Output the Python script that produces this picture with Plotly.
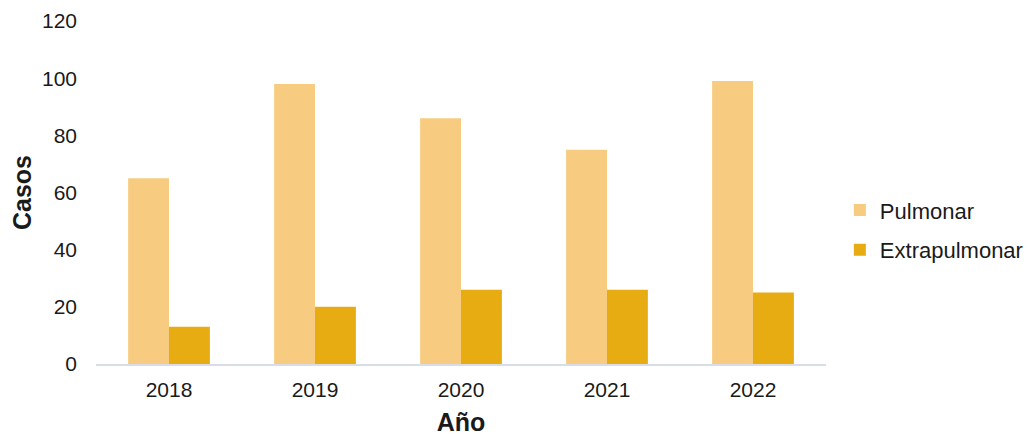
import plotly.graph_objects as go

years = ["2018", "2019", "2020", "2021", "2022"]
pulmonar = [65, 98, 86, 75, 99]
extrapulmonar = [13, 20, 26, 26, 25]

fig = go.Figure()
fig.add_trace(go.Bar(x=years, y=pulmonar, name="Pulmonar", legendgroup="a",
                     marker=dict(color="#F7CC80", line=dict(width=0))))
fig.add_trace(go.Bar(x=years, y=extrapulmonar, name="Extrapulmonar", legendgroup="b",
                     marker=dict(color="#E6AC12", line=dict(width=0))))

fig.update_layout(
    width=1028, height=436,
    margin=dict(l=96, r=202, t=21, b=72, autoexpand=False),
    paper_bgcolor="white", plot_bgcolor="white",
    barmode="group", bargap=0.44, bargroupgap=0,
    font=dict(family="Liberation Sans, Arial, sans-serif", size=21, color="#1a1a1a"),
    xaxis=dict(title=dict(text="<b>Año</b>", standoff=20), showgrid=False, showline=True,
               linecolor="#D9DDEA", linewidth=1.5, ticks="", ticklabelstandoff=6,
               automargin=False),
    yaxis=dict(title=dict(text="<b>Casos</b>", standoff=3), range=[0, 120], dtick=20,
               showgrid=False, showline=False, zeroline=False, ticks="", ticklabelstandoff=18,
               automargin=False),
    legend=dict(x=1.019, y=0.39, xanchor="left", yanchor="middle", tracegroupgap=8,
                font=dict(size=22)),
)

fig.write_html("out.html", config={"displayModeBar": False},
               post_script="document.body.style.margin='0';document.body.style.overflow='hidden';")
